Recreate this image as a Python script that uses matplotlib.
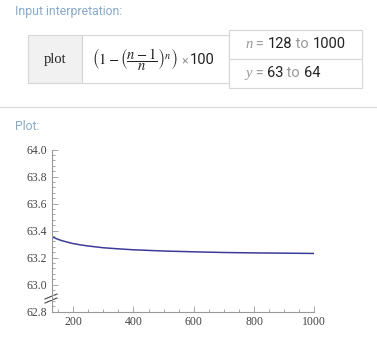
import matplotlib
matplotlib.use("Agg")
import matplotlib.pyplot as plt
from matplotlib.patches import Rectangle
from matplotlib.ticker import MultipleLocator

# values
n_vals = [128, 140, 160, 180, 200, 225, 250, 300, 350, 400, 500, 600, 700, 800, 900, 1000]
pct_vals = [63.356, 63.344, 63.327, 63.315, 63.304, 63.294, 63.286, 63.273, 63.265,
            63.258, 63.249, 63.243, 63.238, 63.235, 63.233, 63.231]
x_ticks = [200, 400, 600, 800, 1000]
y_ticks = [62.8, 63.0, 63.2, 63.4, 63.6, 63.8, 64.0]

W, H = 377, 346
fig = plt.figure(figsize=(W / 100, H / 100), dpi=100)
plt.rcParams['mathtext.fontset'] = 'stix'

# overlay in pixel coordinates for the header
ov = fig.add_axes([0, 0, 1, 1])
ov.set_xlim(0, W)
ov.set_ylim(H, 0)
ov.axis('off')

head_col = '#88aacb'
border = '#d6d6d6'
ov.text(15, 12, 'Input interpretation:', color=head_col, fontsize=8.8,
        family='Roboto', va='center', ha='left')
ov.text(15, 126, 'Plot:', color=head_col, fontsize=8.8,
        family='Roboto', va='center', ha='left')
ov.plot([0, W], [107, 107], color='#dcdcdc', lw=1)

ov.add_patch(Rectangle((28, 35), 54, 48, facecolor='#f1f1f1', edgecolor=border, lw=0.8))
ov.add_patch(Rectangle((82, 35), 147, 48, facecolor='white', edgecolor=border, lw=0.8))
ov.add_patch(Rectangle((229, 30), 133, 29, facecolor='white', edgecolor=border, lw=0.8))
ov.add_patch(Rectangle((229, 59), 133, 29, facecolor='white', edgecolor=border, lw=0.8))

ov.text(55, 60, 'plot', fontsize=10.5, family='Liberation Serif', ha='center', va='center',
        color='#222222')
ov.text(92, 60, r'$\left(1-\left(\dfrac{n-1}{n}\right)^{n}\right)$', fontsize=10.5,
        ha='left', va='center', color='#222222')
ov.text(181, 61, '×', fontsize=9, family='Roboto', ha='left', va='center', color='#999999')
ov.text(190, 60, '100', fontsize=10.5, family='Roboto', ha='left', va='center', color='#222222')

def range_row(y, var, lo, hi):
    x = 245
    parts = [(var, '#999999', 'Liberation Serif', 'italic'),
             (' = ', '#999999', 'Roboto', 'normal'),
             (lo, '#222222', 'Roboto', 'normal'),
             (' to ', '#999999', 'Roboto', 'normal'),
             (hi, '#222222', 'Roboto', 'normal')]
    r = fig.canvas.get_renderer()
    for s, c, fam, sty in parts:
        t = ov.text(x, y, s, color=c, fontsize=10.5, family=fam, style=sty,
                    ha='left', va='center')
        bb = t.get_window_extent(renderer=r)
        x += bb.width

range_row(44, 'n', '128', '1000')
range_row(73, 'y', '63', '64')

# the plot itself
ax = fig.add_axes([51.5 / W, 1 - 311.7 / H, (314.3 - 51.5) / W, (311.7 - 149.5) / H])
ax.plot(n_vals, pct_vals, color='#3d3b98', lw=1.1)
ax.set_xlim(128, 1000)
ax.set_ylim(62.8, 64.0)
ax.set_facecolor('none')
for s in ['top', 'right']:
    ax.spines[s].set_visible(False)
for s in ['left', 'bottom']:
    ax.spines[s].set_color('#999999')
    ax.spines[s].set_linewidth(0.8)
ax.set_xticks(x_ticks)
ax.set_yticks(y_ticks)
ax.set_yticklabels(['%.1f' % v for v in y_ticks])
ax.xaxis.set_minor_locator(MultipleLocator(50))
ax.yaxis.set_minor_locator(MultipleLocator(0.04))
ax.tick_params(which='both', direction='in', color='#999999', width=0.6,
               labelsize=8.5, labelcolor='#444444', pad=3)
ax.tick_params(which='major', length=4)
ax.tick_params(which='minor', length=2)
for lab in ax.get_xticklabels() + ax.get_yticklabels():
    lab.set_family('Liberation Serif')

# axis break mark
ov.plot([45, 57], [299, 294], color='#444444', lw=0.8)
ov.plot([45, 57], [303, 298], color='#444444', lw=0.8)
ov.add_patch(Rectangle((50.5, 296.5), 2, 3.5, facecolor='white', edgecolor='none', zorder=5))

fig.savefig('out.png', dpi=100)
